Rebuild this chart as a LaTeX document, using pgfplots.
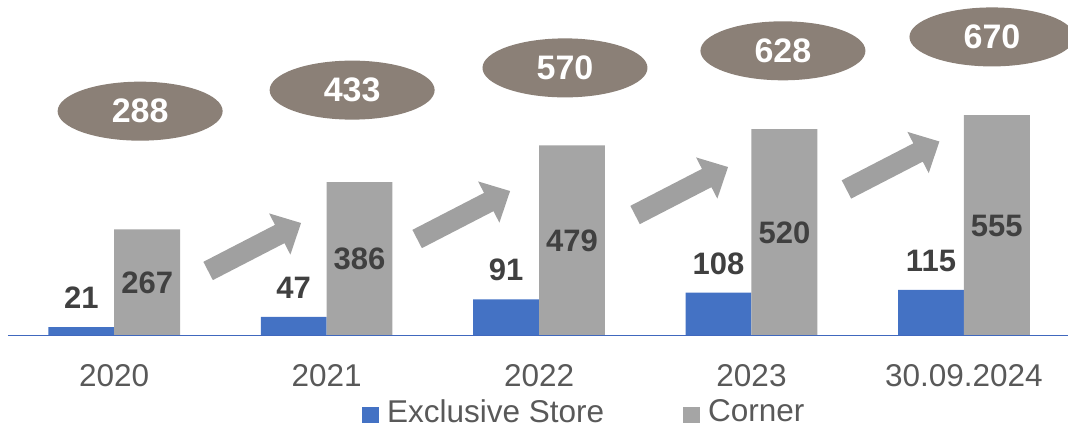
\documentclass[border=0pt]{standalone}
\usepackage{pgfplots}
\pgfplotsset{compat=1.18}
\usepackage{pgfplotstable}
\usepackage{fontspec}
\setmainfont{Liberation Sans}
\usetikzlibrary{shapes.geometric}
\definecolor{exbl}{HTML}{4472C4}
\definecolor{cogr}{HTML}{A5A5A5}
\definecolor{argr}{HTML}{A0A0A0}
\definecolor{elbr}{HTML}{8B8077}
\definecolor{lab}{HTML}{404040}
\definecolor{tickc}{HTML}{595959}
\definecolor{axbl}{HTML}{4068BE}

\pgfplotstableread{
x excl corner total tx ty
0 21 267 288 0.122 565
1 47 386 433 1.120 618
2 91 479 570 2.122 674
3 108 520 628 3.148 717
4 115 555 670 4.132 752
}\data

\newcommand\uparr[2]{\fill[argr, shift={(axis cs:#1,#2)}, rotate=27.3]
  (0pt,-5.15pt) -- (40.3pt,-5.15pt) -- (40.3pt,-11.6pt) -- (52.3pt,0pt)
  -- (40.3pt,11.6pt) -- (40.3pt,5.15pt) -- (0pt,5.15pt) -- cycle;}

\begin{document}
\begin{tikzpicture}
\useasboundingbox (0,0) rectangle (534pt,215.5pt);
\begin{axis}[
  at={(4pt,47.75pt)}, anchor=south west,
  scale only axis, width=530pt, height=167.75pt,
  xmin=-0.5, xmax=4.49, ymin=0, ymax=845,
  hide y axis, axis x line=bottom,
  x axis line style={draw=none},
  xtick={0,1,2,3,4}, xticklabels={2020,2021,2022,2023,30.09.2024},
  major tick length=0pt,
  xticklabel style={font=\fontsize{15.75}{18}\selectfont, text=tickc, anchor=base, yshift=-25.75pt},
  /pgf/number format/assume math mode=true,
  clip=false,
  legend columns=2,
  legend image code/.code={\fill[#1] (0pt,-5.25pt) rectangle (8.5pt,2.75pt);},
  legend style={draw=none, fill=none, inner sep=0pt, outer sep=0pt,
    at={(rel axis cs:0.334,-0.2295)}, anchor=west,
    font=\fontsize{15.75}{18}\selectfont,
    nodes={inner sep=0pt, text=tickc},
    /tikz/every odd column/.append style={column sep=4pt},
    /tikz/every even column/.append style={column sep=39.5pt}},
]
\addlegendimage{fill=exbl, draw=none}
\addlegendentry{Exclusive Store}
\addlegendimage{fill=cogr, draw=none}
\addlegendentry{Corner}

\uparr{0.442}{162.5}
\uparr{1.426}{243}
\uparr{2.452}{303.5}
\uparr{3.447}{367.8}

\addplot[ybar, forget plot, bar width=0.31, bar shift=0pt, fill=exbl, draw=none,
  nodes near coords,
  every node near coord/.style={font=\fontsize{15.5}{18}\selectfont\bfseries, text=lab, anchor=base, yshift=9.3pt}]
  table[x expr=\thisrow{x}-0.155, y=excl]{\data};
\addplot[ybar, forget plot, bar width=0.31, bar shift=0pt, fill=cogr, draw=none]
  table[x expr=\thisrow{x}+0.155, y=corner]{\data};
\addplot[draw=none, mark=none, forget plot, nodes near coords, point meta=\thisrow{corner},
  every node near coord/.style={font=\fontsize{15.5}{18}\selectfont\bfseries, text=lab, anchor=base, yshift=-5.5pt}]
  table[x expr=\thisrow{x}+0.155, y expr=\thisrow{corner}/2]{\data};
\addplot[draw=none, mark=none, forget plot, nodes near coords, point meta=\thisrow{total},
  every node near coord/.style={ellipse, fill=elbr, minimum width=82.5pt, minimum height=29.5pt,
    inner sep=0pt, anchor=center, text=white, font=\fontsize{17}{20}\selectfont\bfseries}]
  table[x=tx, y=ty]{\data};
\draw[axbl, line width=0.9pt] (rel axis cs:0,0) -- (rel axis cs:1,0);
\end{axis}
\end{tikzpicture}
\end{document}
